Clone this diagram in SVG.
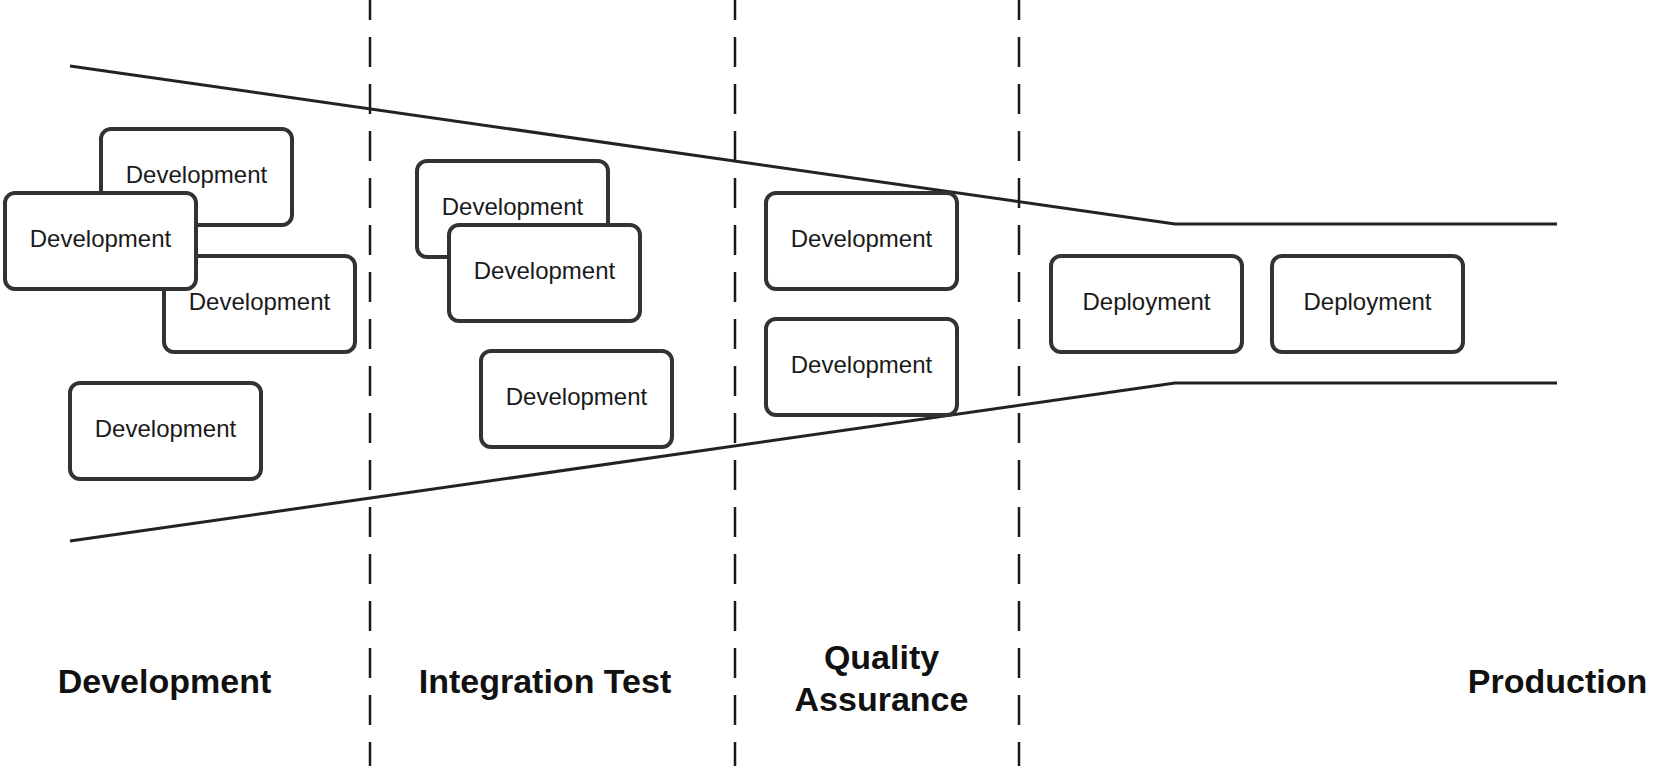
<svg xmlns="http://www.w3.org/2000/svg" width="1653" height="766" viewBox="0 0 1653 766">
<style>
.bg{fill:#ffffff}
.lane{stroke:#1a1a1a;stroke-width:2.5;stroke-dasharray:30 17;stroke-dashoffset:10;fill:none}
.funnel{stroke:#222;stroke-width:3;fill:none;stroke-linejoin:miter}
.box{fill:#ffffff;stroke:#333;stroke-width:4}
.bt{font-family:"Liberation Sans",Arial,sans-serif;font-size:24px;fill:#1a1a1a;text-anchor:middle}
.lbl{font-family:"Liberation Sans",Arial,sans-serif;font-size:34px;font-weight:bold;fill:#111;text-anchor:middle}
</style>
<rect class="bg" x="0" y="0" width="1653" height="766"/>
<g id="lanes">
<line class="lane" x1="370" y1="0" x2="370" y2="766"/>
<line class="lane" x1="735" y1="0" x2="735" y2="766"/>
<line class="lane" x1="1019" y1="0" x2="1019" y2="766"/>
</g>
<g id="connectors">
<polyline class="funnel" points="70,66 1175,224 1557,224"/>
<polyline class="funnel" points="70,541 1175,383 1557,383"/>
</g>
<g id="dev-a"><rect class="box" x="101" y="129" width="191" height="96" rx="10"/><text class="bt" x="196.5" y="183">Development</text></g>
<g id="dev-c"><rect class="box" x="164" y="256" width="191" height="96" rx="10"/><text class="bt" x="259.5" y="310">Development</text></g>
<g id="dev-b"><rect class="box" x="5" y="193" width="191" height="96" rx="10"/><text class="bt" x="100.5" y="247">Development</text></g>
<g id="dev-d"><rect class="box" x="70" y="383" width="191" height="96" rx="10"/><text class="bt" x="165.5" y="437">Development</text></g>
<g id="int-e"><rect class="box" x="417" y="161" width="191" height="96" rx="10"/><text class="bt" x="512.5" y="215">Development</text></g>
<g id="int-f"><rect class="box" x="449" y="225" width="191" height="96" rx="10"/><text class="bt" x="544.5" y="279">Development</text></g>
<g id="int-g"><rect class="box" x="481" y="351" width="191" height="96" rx="10"/><text class="bt" x="576.5" y="405">Development</text></g>
<g id="qa-h"><rect class="box" x="766" y="193" width="191" height="96" rx="10"/><text class="bt" x="861.5" y="247">Development</text></g>
<g id="qa-i"><rect class="box" x="766" y="319" width="191" height="96" rx="10"/><text class="bt" x="861.5" y="373">Development</text></g>
<g id="prod-j"><rect class="box" x="1051" y="256" width="191" height="96" rx="10"/><text class="bt" x="1146.5" y="310">Deployment</text></g>
<g id="prod-k"><rect class="box" x="1272" y="256" width="191" height="96" rx="10"/><text class="bt" x="1367.5" y="310">Deployment</text></g>
<g id="labels">
<text class="lbl" x="164.5" y="692.5">Development</text>
<text class="lbl" x="545" y="692.5">Integration Test</text>
<text class="lbl" x="881.5" y="669">Quality</text>
<text class="lbl" x="881.5" y="710.5">Assurance</text>
<text class="lbl" x="1557.5" y="692.5">Production</text>
</g>
</svg>
